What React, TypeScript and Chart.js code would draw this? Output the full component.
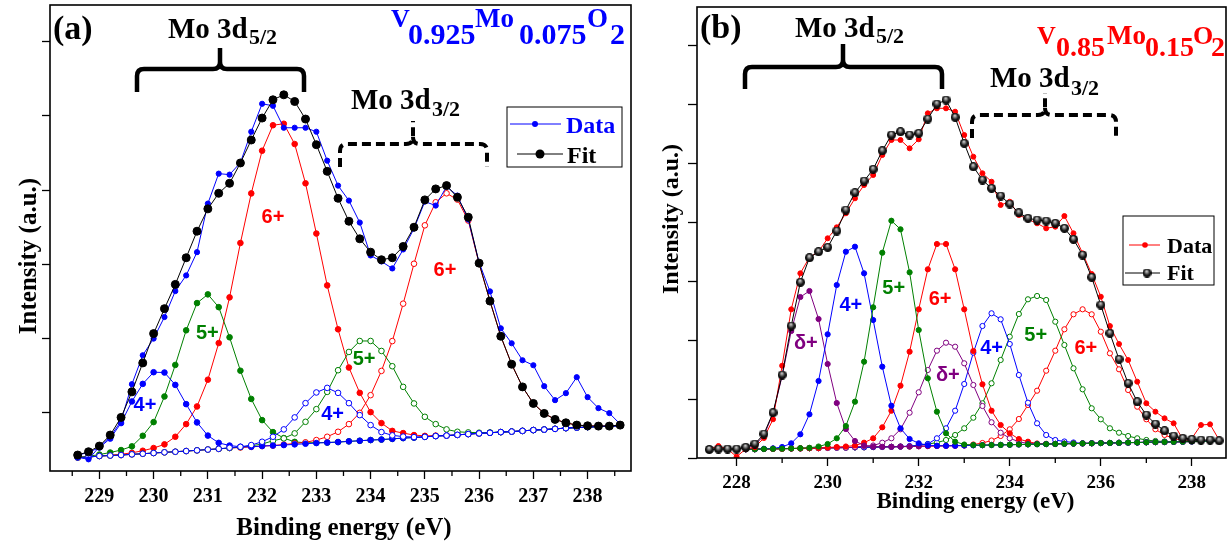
import React, { useEffect, useRef } from "react";
import { Chart, registerables } from "chart.js";

Chart.register(...registerables);

const SERIF = '"Liberation Serif", "Times New Roman", Times, serif';
const SANS = '"Liberation Sans", Arial, Helvetica, sans-serif';
const BLUE = "#0000ff";
const GREEN = "#008000";
const RED = "#ff0000";
const PURPLE = "#800080";
const BLACK = "#000000";

/* ================= Panel (a) : V0.925Mo0.075O2 ================= */
const energyA = [228.6, 228.8, 229, 229.2, 229.4, 229.6, 229.8, 230, 230.2, 230.4, 230.6, 230.8, 231, 231.2, 231.4, 231.6, 231.8, 232, 232.2, 232.4, 232.6, 232.8, 233, 233.2, 233.4, 233.6, 233.8, 234, 234.2, 234.4, 234.6, 234.8, 235, 235.2, 235.4, 235.6, 235.8, 236, 236.2, 236.4, 236.6, 236.8, 237, 237.2, 237.4, 237.6, 237.8, 238, 238.2, 238.4, 238.6];
const majorTicksA = [229, 230, 231, 232, 233, 234, 235, 236, 237, 238];
const minorTicksA = [228.5, 229.5, 230.5, 231.5, 232.5, 233.5, 234.5, 235.5, 236.5, 237.5, 238.5];
const intensityTicksA = [59, 133.2, 207.4, 281.6, 355.8, 430];
const backgroundA = [13.5, 14, 15, 15.5, 16, 16.7, 17.3, 18, 18.7, 19.3, 20, 20.7, 21.5, 22.2, 23, 23.5, 24.2, 25, 25.5, 26, 26.7, 27.3, 28, 28.5, 29, 29.7, 30.3, 31, 31.5, 32.2, 33, 33.5, 34.2, 35, 35.5, 36.2, 37, 37.7, 38.3, 39, 39.5, 40.2, 41, 41.5, 42.2, 43, 43.5, 44, 44.5, 45, 45.3];
const dataA = [13.7, 11.7, 24.3, 34.3, 50, 87, 116, 132.7, 154.3, 180.3, 196, 219.3, 268, 298, 297, 309, 340, 368, 366, 344, 344, 344, 340, 311, 286, 271, 249, 216, 210, 203, 222, 243, 270, 266, 285, 276, 252, 209, 180, 143, 128, 111, 106, 85, 71, 78, 94, 74, 63, 58, 47];
const fitA = [16, 19.3, 25, 36, 53.7, 79.3, 108.3, 137.7, 162.7, 187, 213.7, 240.3, 262.7, 278.3, 288.3, 308.7, 331.7, 353.7, 372, 377, 370.3, 352.7, 327, 300.3, 273.3, 250.3, 232.7, 219.3, 211.7, 213.7, 225, 244.3, 271.7, 282.7, 286, 274.3, 254.3, 208.3, 170.3, 135, 107, 84.3, 67.7, 57.7, 51.7, 48.3, 46, 45.3, 45, 45, 46];
// fitted components: height above background, first value at index *_from
const mo4d52A_from = 0;
const mo4d52A = [2.5, 4.6, 8.5, 17, 32, 53, 70, 81, 80, 67, 47, 28, 14, 6, 2.5, 0.8];
const mo5d52A_from = 0;
const mo5d52A = [0.3, 0.7, 1.5, 3, 5, 8, 18, 31, 56, 87, 121, 147.6, 155.5, 142, 111, 77, 48, 26, 13.5, 7, 2.5, 1, 0.4];
const mo6d52A_from = 2;
const mo6d52A = [0.2, 0.3, 0.8, 1.5, 3, 5, 8, 15, 27, 44, 70, 106, 151, 205, 254, 296, 321, 322, 301, 261, 210, 157.5, 113, 74, 48, 28, 16.5, 8, 5, 2.5, 1, 0.5];
const mo4d32A_from = 14;
const mo4d32A = [0.3, 0.7, 1.8, 4.3, 8.8, 15.7, 27, 40.7, 50.7, 54.8, 49.3, 38.3, 25.7, 15, 7.5, 3.5, 1.5, 0.5];
const mo5d32A_from = 15;
const mo5d32A = [0.5, 1, 2, 4.8, 6.7, 11, 22, 34, 50.8, 72, 89.6, 100, 99.3, 88.8, 72.8, 51.3, 34.2, 20.1, 12, 6.2, 3.1, 1.7, 0.7, 0.3];
const mo6d32A_from = 19;
const mo6d32A = [0.5, 0.9, 1.4, 3, 5.8, 10.3, 17.3, 28, 45, 68.8, 98, 134.7, 174.2, 212, 234.3, 242.8, 235.8, 214, 170, 132, 96, 67.5, 44, 26.7, 16.2, 9.5, 5.3, 2.5, 1.3, 0.5, 0.2];

/* ================= Panel (b) : V0.85Mo0.15O2 ================= */
const energyB = [227.4, 227.6, 227.8, 228, 228.2, 228.4, 228.6, 228.8, 229, 229.2, 229.4, 229.6, 229.8, 230, 230.2, 230.4, 230.6, 230.8, 231, 231.2, 231.4, 231.6, 231.8, 232, 232.2, 232.4, 232.6, 232.8, 233, 233.2, 233.4, 233.6, 233.8, 234, 234.2, 234.4, 234.6, 234.8, 235, 235.2, 235.4, 235.6, 235.8, 236, 236.2, 236.4, 236.6, 236.8, 237, 237.2, 237.4, 237.6, 237.8, 238, 238.2, 238.4, 238.6];
const majorTicksB = [228, 230, 232, 234, 236, 238];
const minorTicksB = [229, 231, 233, 235, 237];
const intensityTicksB = [0, 58.9, 117.8, 176.7, 235.6, 294.5, 353.4, 412.3];
const backgroundB = [null, null, null, null, 8.7, 8.8, 9.0, 9.2, 9.3, 9.5, 9.6, 9.8, 9.9, 10.1, 10.3, 10.4, 10.6, 10.7, 10.9, 11.1, 11.2, 11.4, 11.5, 11.7, 11.9, 12.0, 12.2, 12.3, 12.5, 12.7, 12.8, 13.0, 13.1, 13.3, 13.5, 13.6, 13.8, 13.9, 14.1, 14.3, 14.4, 14.6, 14.7, 14.9, 15.1, 15.2, 15.4, 15.5, 15.7, 15.9, 16.0, 16.2, 16.3, 16.5, 16.7, 16.8, 17.0];
const dataB = [9, 12, 9, 1.3, 9, 10.7, 20, 38.7, 92.3, 148.7, 184.7, 200.7, 206.3, 219.7, 230.7, 244.7, 259.7, 273, 283, 303, 318, 318, 309.7, 318.7, 344.7, 349.7, 349.7, 346.3, 323, 301.3, 284.7, 276.3, 253, 256.3, 243, 238.7, 234.7, 229.7, 231.3, 242, 224.7, 204.7, 184, 161.3, 132, 114, 98, 76.3, 54.7, 46.3, 39.7, 34.7, 18.7, 19.7, 33, 33.7, 18];
const fitB = [8.5, 9, 9, 9, 10.7, 14, 24, 45.3, 83, 132, 175.7, 200.3, 206.3, 210.7, 227, 248, 265.3, 277, 288.7, 307.3, 323, 326.3, 323, 324.7, 339, 354, 358, 340.7, 314.7, 291.3, 278, 269.7, 262, 254, 245.3, 239.7, 238, 237, 234.7, 229.7, 218.7, 203, 180.7, 153, 124.7, 98.7, 74.7, 56.3, 43, 34, 27.3, 22, 19.7, 18.7, 18, 18, 17.3];
// fitted components: absolute values over their peak range, background elsewhere
const moDd52B_from = 4;
const moDd52B = [9.6, 12.8, 22.5, 44.5, 82, 127, 161, 167, 139, 94, 55, 29, 17, 12.5, 11.3, 11.2];
const mo4d52B_from = 6;
const mo4d52B = [9.2, 9.6, 11, 14.7, 23.7, 43.7, 77, 123.7, 173, 206.3, 211.3, 184.7, 138, 91.3, 52.3, 29.7, 19, 14.7, 12.8, 12.3];
const mo5d52B_from = 10;
const mo5d52B = [9.8, 10.2, 11.5, 14, 19.7, 32, 56.3, 96.3, 150.7, 205.3, 237.3, 228.7, 185.7, 128, 79.7, 46.3, 24.7, 16.3, 13.5, 13];
const mo6d52B_from = 13;
const mo6d52B = [10.5, 11, 11.5, 12.5, 15.3, 19.7, 30.7, 47.3, 72.3, 106.3, 148.7, 188.7, 214, 214, 188.7, 148.7, 107, 73.7, 47.3, 33, 24.7, 19, 16.3, 14.5, 14.2];
const moDd32B_from = 16;
const moDd32B = [11, 11.8, 12.5, 15.3, 19.7, 28.7, 45.3, 65.7, 88, 107.3, 115.3, 111.3, 94.7, 73, 52, 35.7, 25.3, 19.7, 16.3, 14.5, 14.2];
const mo4d32B_from = 22;
const mo4d32B = [12, 12.5, 14, 19.7, 29.7, 47.3, 74, 105.3, 132, 144.7, 138.7, 114, 83, 55.3, 34.7, 23, 18, 16.5, 15.5];
const mo5d32B_from = 23;
const mo5d32B = [13, 14, 15.3, 18, 23, 29.7, 40.3, 54.7, 74.7, 98, 121.3, 144, 158.7, 162, 158, 136.3, 113, 89.7, 68.7, 49.7, 38.7, 29.7, 25.3, 22, 19.7, 18, 17, 16.5];
const mo6d32B_from = 29;
const mo6d32B = [13.5, 15, 17.5, 22, 28.7, 39, 53, 67.3, 87.3, 107.3, 128.7, 143.7, 148.7, 143.7, 126.3, 104.7, 88.7, 68, 51.3, 38.7, 28.7, 23, 19.5, 17.5, 16.8];

/* ================= helpers ================= */
const overBackground = (bg: number[], from: number, peak: number[]) =>
  bg.map((b, i) => {
    const p = peak[i - from];
    return p === undefined ? b : Math.round((b + p) * 100) / 100;
  });
const onBackground = (bg: (number | null)[], from: number, vals: number[]) =>
  bg.map((b, i) => {
    const v = vals[i - from];
    return v === undefined ? b : v;
  });
const points = (xs: number[], ys: (number | null)[]) => xs.map((x, i) => ({ x, y: ys[i] }));

function series(label: string, xs: number[], ys: (number | null)[], color: string, o: any = {}) {
  return {
    label,
    data: points(xs, ys),
    borderColor: color,
    backgroundColor: color,
    borderWidth: 1,
    pointRadius: o.r ?? 2.8,
    pointBorderWidth: 1,
    pointBorderColor: color,
    pointBackgroundColor: o.open ? "#ffffff" : color,
    pointStyle: o.style ?? "circle",
    tension: 0,
    fill: false,
    spanGaps: false,
  };
}

function makeBall(d: number) {
  const c = document.createElement("canvas");
  c.width = d;
  c.height = d;
  const g = c.getContext("2d")!;
  const r = d / 2;
  const grad = g.createRadialGradient(r * 0.9, r * 0.55, 0, r, r, r);
  grad.addColorStop(0, "#e6e6e6");
  grad.addColorStop(0.3, "#8a8a8a");
  grad.addColorStop(0.65, "#1a1a1a");
  grad.addColorStop(1, "#000000");
  g.fillStyle = grad;
  g.beginPath();
  g.arc(r, r, r, 0, Math.PI * 2);
  g.fill();
  return c;
}

function drawBrace(ctx: CanvasRenderingContext2D, a: any, b: any) {
  const X = (v: number) => a.left + v;
  const Y = (v: number) => a.top + v;
  const r = 7;
  ctx.save();
  ctx.strokeStyle = BLACK;
  ctx.lineWidth = b.dashed ? 4 : 4.5;
  ctx.lineCap = "butt";
  ctx.lineJoin = "round";
  ctx.setLineDash(b.dashed ? [9, 5] : []);
  ctx.beginPath();
  ctx.moveTo(X(b.x1), Y(b.ye));
  ctx.lineTo(X(b.x1), Y(b.yl + r));
  ctx.quadraticCurveTo(X(b.x1), Y(b.yl), X(b.x1 + r), Y(b.yl));
  ctx.lineTo(X(b.xm - r), Y(b.yl));
  ctx.quadraticCurveTo(X(b.xm), Y(b.yl), X(b.xm), Y(b.yl - r));
  ctx.lineTo(X(b.xm), Y(b.yt));
  ctx.moveTo(X(b.xm), Y(b.yl - r));
  ctx.quadraticCurveTo(X(b.xm), Y(b.yl), X(b.xm + r), Y(b.yl));
  ctx.lineTo(X(b.x2 - r), Y(b.yl));
  ctx.quadraticCurveTo(X(b.x2), Y(b.yl), X(b.x2), Y(b.yl + r));
  ctx.lineTo(X(b.x2), Y(b.ye));
  ctx.stroke();
  ctx.restore();
}

function decorPlugin(spec: any) {
  return {
    id: "decor",
    afterDraw(chart: any) {
      const { ctx, chartArea: a } = chart;
      const xs = chart.scales.x;
      const ys = chart.scales.y;
      ctx.save();
      // frame
      ctx.strokeStyle = BLACK;
      ctx.lineWidth = 1.6;
      ctx.setLineDash([]);
      ctx.strokeRect(a.left, a.top, a.right - a.left, a.bottom - a.top);
      // minor x ticks
      ctx.lineWidth = 1.3;
      ctx.beginPath();
      for (const v of spec.minorTicks) {
        const px = xs.getPixelForValue(v);
        ctx.moveTo(px, a.bottom);
        ctx.lineTo(px, a.bottom + 5);
      }
      ctx.stroke();
      // axis titles
      ctx.fillStyle = BLACK;
      ctx.textAlign = "center";
      ctx.textBaseline = "middle";
      ctx.font = `bold ${spec.xTitle.size}px ${SERIF}`;
      ctx.fillText(spec.xTitle.text, a.left + spec.xTitle.dx, a.bottom + spec.xTitle.dy);
      ctx.save();
      ctx.translate(a.left + spec.yTitle.dx, a.top + spec.yTitle.dy);
      ctx.rotate(-Math.PI / 2);
      ctx.font = `bold ${spec.yTitle.size}px ${SERIF}`;
      ctx.fillText(spec.yTitle.text, 0, 0);
      ctx.restore();
      // braces
      for (const b of spec.braces) drawBrace(ctx, a, b);
      // free texts
      ctx.textAlign = "left";
      ctx.textBaseline = "alphabetic";
      for (const t of spec.texts) {
        ctx.fillStyle = t.color;
        ctx.font = `bold ${t.size}px ${SERIF}`;
        ctx.fillText(t.t, a.left + t.dx, a.top + t.dy);
      }
      // oxidation state labels (data coordinates)
      ctx.textAlign = "center";
      ctx.textBaseline = "middle";
      for (const l of spec.states) {
        ctx.fillStyle = l.color;
        ctx.font = `bold ${spec.stateSize}px ${SANS}`;
        ctx.fillText(l.t, xs.getPixelForValue(l.e), ys.getPixelForValue(l.v));
      }
      // legend
      const L = spec.legend;
      ctx.fillStyle = "#ffffff";
      ctx.fillRect(a.left + L.dx, a.top + L.dy, L.w, L.h);
      ctx.strokeStyle = BLACK;
      ctx.lineWidth = 1;
      ctx.strokeRect(a.left + L.dx, a.top + L.dy, L.w, L.h);
      for (const row of L.rows) {
        const y = a.top + row.y;
        ctx.strokeStyle = row.color;
        ctx.lineWidth = 1;
        ctx.beginPath();
        ctx.moveTo(a.left + row.x1, y);
        ctx.lineTo(a.left + row.x2, y);
        ctx.stroke();
        const mx = a.left + row.mx;
        if (row.ball) {
          ctx.drawImage(row.ball, mx - row.ball.width / 2, y - row.ball.height / 2);
        } else {
          ctx.fillStyle = row.color;
          ctx.beginPath();
          ctx.arc(mx, y, row.r, 0, Math.PI * 2);
          ctx.fill();
        }
        ctx.fillStyle = row.textColor;
        ctx.textAlign = "left";
        ctx.textBaseline = "alphabetic";
        ctx.font = `bold ${L.size}px ${SERIF}`;
        ctx.fillText(row.label, a.left + row.tx, a.top + row.ty);
      }
      ctx.restore();
    },
  };
}

function axes(o: any) {
  const grid = { drawOnChartArea: false, drawTicks: true, tickColor: BLACK, tickWidth: 1.3 };
  return {
    x: {
      type: "linear",
      min: o.xMin,
      max: o.xMax,
      afterFit: (s: any) => {
        s.height = o.xHeight;
      },
      afterBuildTicks: (s: any) => {
        s.ticks = o.majors.map((v: number) => ({ value: v }));
      },
      ticks: {
        color: BLACK,
        font: { family: SERIF, size: o.tickSize, weight: "bold" },
        padding: 5.5,
        autoSkip: false,
        maxRotation: 0,
        callback: (v: number) => String(v),
      },
      grid: { ...grid, tickLength: 8 },
      border: { display: false },
    },
    y: {
      type: "linear",
      min: 0,
      max: o.yMax,
      afterFit: (s: any) => {
        s.width = o.yWidth;
      },
      afterBuildTicks: (s: any) => {
        s.ticks = o.yTicks.map((v: number) => ({ value: v }));
      },
      ticks: { display: false },
      grid: { ...grid, tickLength: o.yTickLen },
      border: { display: false },
    },
  };
}

function buildA() {
  const bg = backgroundA;
  const datasets = [
    series("Fit", energyA, fitA, BLACK, { r: 4 }),
    series("Data", energyA, dataA, BLUE, { r: 2.6 }),
    series("4+ (3d3/2)", energyA, overBackground(bg, mo4d32A_from, mo4d32A), BLUE, { open: true }),
    series("4+ (3d5/2)", energyA, overBackground(bg, mo4d52A_from, mo4d52A), BLUE),
    series("5+ (3d3/2)", energyA, overBackground(bg, mo5d32A_from, mo5d32A), GREEN, { open: true }),
    series("6+ (3d3/2)", energyA, overBackground(bg, mo6d32A_from, mo6d32A), RED, { open: true }),
    series("5+ (3d5/2)", energyA, overBackground(bg, mo5d52A_from, mo5d52A), GREEN),
    series("6+ (3d5/2)", energyA, overBackground(bg, mo6d52A_from, mo6d52A), RED),
  ];
  const spec = {
    minorTicks: minorTicksA,
    xTitle: { text: "Binding energy (eV)", size: 25, dx: 294, dy: 58 },
    yTitle: { text: "Intensity (a.u.)", size: 25, dx: -20.3, dy: 251 },
    braces: [
      { x1: 87, x2: 254, xm: 170, yl: 64, ye: 87, yt: 43, dashed: false },
      { x1: 290, x2: 437, xm: 363, yl: 139, ye: 162, yt: 116, dashed: true },
    ],
    texts: [
      { t: "(a)", dx: 3, dy: 34, size: 34, color: BLACK },
      { t: "Mo 3d", dx: 118, dy: 33, size: 29, color: BLACK },
      { t: "5/2", dx: 199, dy: 39, size: 22, color: BLACK },
      { t: "Mo 3d", dx: 301, dy: 104, size: 29, color: BLACK },
      { t: "3/2", dx: 382, dy: 111, size: 22, color: BLACK },
      { t: "V", dx: 341, dy: 22, size: 26, color: BLUE },
      { t: "0.925", dx: 358, dy: 39, size: 30, color: BLUE },
      { t: "Mo", dx: 425, dy: 22, size: 27, color: BLUE },
      { t: "0.075", dx: 469, dy: 39, size: 30, color: BLUE },
      { t: "O", dx: 537, dy: 22, size: 27, color: BLUE },
      { t: "2", dx: 560, dy: 39, size: 30, color: BLUE },
    ],
    stateSize: 20,
    states: [
      { t: "4+", e: 229.84, v: 66, color: BLUE },
      { t: "5+", e: 230.99, v: 138, color: GREEN },
      { t: "6+", e: 232.2, v: 254, color: RED },
      { t: "4+", e: 233.3, v: 57, color: BLUE },
      { t: "5+", e: 233.88, v: 112, color: GREEN },
      { t: "6+", e: 235.37, v: 201, color: RED },
    ],
    legend: {
      dx: 457, dy: 102, w: 115, h: 60, size: 24,
      rows: [
        { label: "Data", color: BLUE, textColor: BLUE, y: 119, x1: 460, x2: 511, mx: 485, r: 3, tx: 516, ty: 128 },
        { label: "Fit", color: BLACK, textColor: BLACK, y: 149, x1: 467, x2: 513, mx: 490, r: 4.5, tx: 517, ty: 158 },
      ],
    },
  };
  return {
    type: "line",
    data: { datasets },
    options: {
      animation: false,
      responsive: false,
      maintainAspectRatio: false,
      events: [],
      layout: { padding: { left: 0, right: 9, top: 4, bottom: 0 } },
      plugins: { legend: { display: false }, tooltip: { enabled: false } },
      scales: axes({
        xMin: 228.09, xMax: 238.8, xHeight: 79, majors: majorTicksA, tickSize: 20,
        yMax: 467, yWidth: 50, yTicks: intensityTicksA, yTickLen: 8,
      }),
    },
    plugins: [decorPlugin(spec)],
  };
}

function buildB() {
  const bg = backgroundB;
  const ball = makeBall(9);
  const datasets = [
    series("Fit", energyB, fitB, BLACK, { r: 4.5, style: ball }),
    series("Data", energyB, dataB, RED, { r: 2.5 }),
    series("5+ (3d5/2)", energyB, onBackground(bg, mo5d52B_from, mo5d52B), GREEN, { r: 2.6 }),
    series("4+ (3d5/2)", energyB, onBackground(bg, mo4d52B_from, mo4d52B), BLUE, { r: 2.6 }),
    series("δ+ (3d5/2)", energyB, onBackground(bg, moDd52B_from, moDd52B), PURPLE, { r: 2.6 }),
    series("6+ (3d5/2)", energyB, onBackground(bg, mo6d52B_from, mo6d52B), RED, { r: 2.6 }),
    series("δ+ (3d3/2)", energyB, onBackground(bg, moDd32B_from, moDd32B), PURPLE, { r: 2.6, open: true }),
    series("4+ (3d3/2)", energyB, onBackground(bg, mo4d32B_from, mo4d32B), BLUE, { r: 2.6, open: true }),
    series("5+ (3d3/2)", energyB, onBackground(bg, mo5d32B_from, mo5d32B), GREEN, { r: 2.6, open: true }),
    series("6+ (3d3/2)", energyB, onBackground(bg, mo6d32B_from, mo6d32B), RED, { r: 2.6, open: true }),
  ];
  const spec = {
    minorTicks: minorTicksB,
    xTitle: { text: "Binding energy (eV)", size: 23, dx: 278.5, dy: 44.5 },
    yTitle: { text: "Intensity (a.u.)", size: 24, dx: -25.3, dy: 212 },
    braces: [
      { x1: 48, x2: 245, xm: 146, yl: 60, ye: 82, yt: 37, dashed: false },
      { x1: 275, x2: 419, xm: 348, yl: 108, ye: 131, yt: 86, dashed: true },
    ],
    texts: [
      { t: "(b)", dx: 3, dy: 31, size: 34, color: BLACK },
      { t: "Mo 3d", dx: 98, dy: 30, size: 29, color: BLACK },
      { t: "5/2", dx: 179, dy: 36, size: 22, color: BLACK },
      { t: "Mo 3d", dx: 293, dy: 80, size: 29, color: BLACK },
      { t: "3/2", dx: 374, dy: 88, size: 22, color: BLACK },
      { t: "V", dx: 340, dy: 37, size: 26, color: RED },
      { t: "0.85", dx: 359, dy: 49, size: 28, color: RED },
      { t: "Mo", dx: 410, dy: 37, size: 27, color: RED },
      { t: "0.15", dx: 448, dy: 49, size: 28, color: RED },
      { t: "O", dx: 496, dy: 37, size: 26, color: RED },
      { t: "2", dx: 514, dy: 49, size: 28, color: RED },
    ],
    stateSize: 20,
    states: [
      { t: "δ+", e: 229.52, v: 114.7, color: PURPLE },
      { t: "4+", e: 230.51, v: 153, color: BLUE },
      { t: "5+", e: 231.45, v: 169.7, color: GREEN },
      { t: "6+", e: 232.47, v: 159, color: RED },
      { t: "δ+", e: 232.64, v: 83, color: PURPLE },
      { t: "4+", e: 233.6, v: 109.7, color: BLUE },
      { t: "5+", e: 234.57, v: 123, color: GREEN },
      { t: "6+", e: 235.67, v: 109.7, color: RED },
    ],
    legend: {
      dx: 426, dy: 209, w: 91, h: 69, size: 22,
      rows: [
        { label: "Data", color: RED, textColor: BLACK, y: 238, x1: 432, x2: 463, mx: 448, r: 2.8, tx: 470, ty: 246 },
        { label: "Fit", color: BLACK, textColor: BLACK, y: 266, x1: 428, x2: 463, mx: 450, ball, tx: 470, ty: 273 },
      ],
    },
  };
  return {
    type: "line",
    data: { datasets },
    options: {
      animation: false,
      responsive: false,
      maintainAspectRatio: false,
      events: [],
      layout: { padding: { left: 0, right: 6, top: 7, bottom: 0 } },
      plugins: { legend: { display: false }, tooltip: { enabled: false } },
      scales: axes({
        xMin: 227.13, xMax: 238.75, xHeight: 92, majors: majorTicksB, tickSize: 19,
        yMax: 451, yWidth: 57, yTicks: intensityTicksB, yTickLen: 9,
      }),
    },
    plugins: [decorPlugin(spec)],
  };
}

function Panel({ left, width, build }: { left: number; width: number; build: () => any }) {
  const ref = useRef<HTMLCanvasElement | null>(null);
  useEffect(() => {
    if (!ref.current) return;
    const chart = new Chart(ref.current, build());
    return () => chart.destroy();
  }, [build]);
  return (
    <canvas
      ref={ref}
      width={width}
      height={550}
      style={{ position: "absolute", left, top: 0, width, height: 550, display: "block" }}
    />
  );
}

export default function App() {
  return (
    <div
      style={{
        position: "fixed",
        left: 0,
        top: 0,
        width: 1232,
        height: 550,
        background: "#ffffff",
        overflow: "hidden",
      }}
    >
      <Panel left={0} width={640} build={buildA} />
      <Panel left={640} width={592} build={buildB} />
    </div>
  );
}
